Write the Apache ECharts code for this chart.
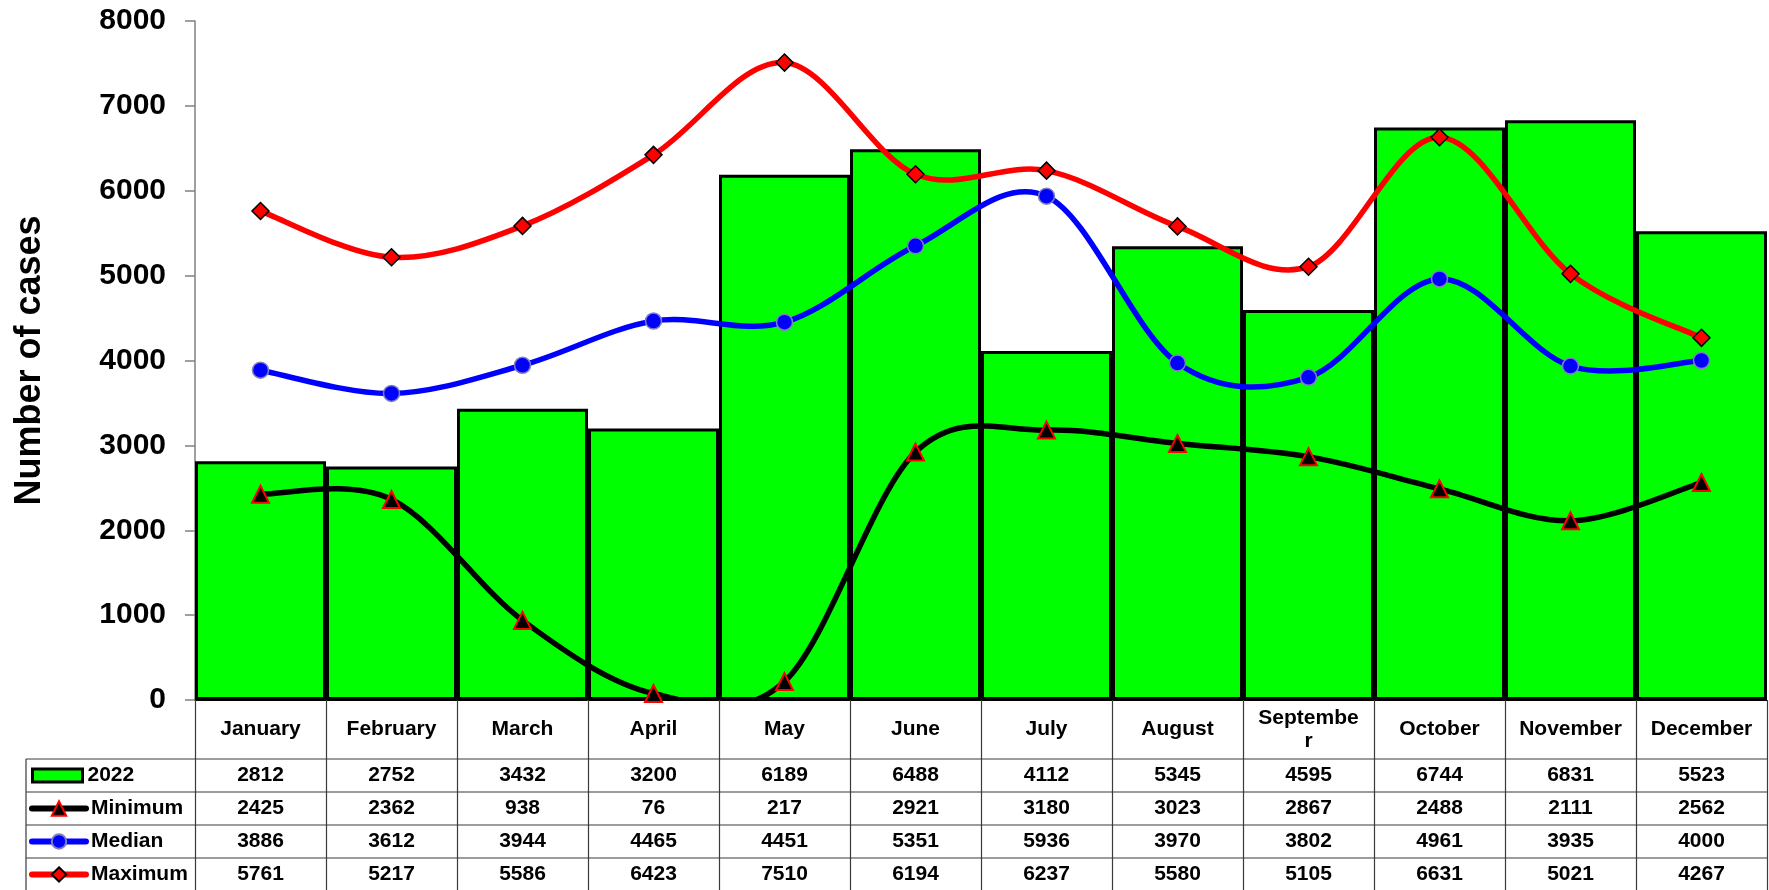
<!DOCTYPE html>
<html>
<head>
<meta charset="utf-8">
<title>Number of cases</title>
<script src="https://cdn.jsdelivr.net/npm/echarts@6.0.0/dist/echarts.min.js"></script>
<style>
  html, body { margin: 0; padding: 0; background: #fff; }
  #main { width: 1769px; height: 890px; }
</style>
</head>
<body>
<div id="main"></div>
<script>
// data
var months = ['January', 'February', 'March', 'April', 'May', 'June', 'July',
  'August', 'September', 'October', 'November', 'December'];
var cases2022 = [2812, 2752, 3432, 3200, 6189, 6488, 4112, 5345, 4595, 6744, 6831, 5523];
var minimum = [2425, 2362, 938, 76, 217, 2921, 3180, 3023, 2867, 2488, 2111, 2562];
var median = [3886, 3612, 3944, 4465, 4451, 5351, 5936, 3970, 3802, 4961, 3935, 4000];
var maximum = [5761, 5217, 5586, 6423, 7510, 6194, 6237, 5580, 5105, 6631, 5021, 4267];
var yTicks = [0, 1000, 2000, 3000, 4000, 5000, 6000, 7000, 8000];

var rowNames = ['2022', 'Minimum', 'Median', 'Maximum'];
var rowValues = [cases2022, minimum, median, maximum];

// layout
var W = 1769, H = 890;
var GRID_LEFT = 195, GRID_RIGHT = 2, GRID_TOP = 21, GRID_BOTTOM = 190;
var HEADER_H = 59, ROW_H = 33, TABLE_LEFT = 26;
var FONT = 'Arial, "Liberation Sans", sans-serif';
var LINE_COLOR = '#3a3a3a';
var CURVE_W = 5.5;

var axisY = H - GRID_BOTTOM;              // 700
var tableRight = W - GRID_RIGHT;

// spreadsheet-style smoothed line: one bezier piece per segment, control points
// from the neighbouring data points (catmull-rom, 1/6), mapped through the axes
function smoothCurve(name, vals, color) {
  return {
    name: name + ' curve',
    type: 'custom',
    clip: true,
    silent: true,
    z: 5,
    data: vals,
    renderItem: function (params, api) {
      var i = params.dataIndex;
      var n = vals.length;
      if (i >= n - 1) return null;
      var p = function (k) {
        k = Math.max(0, Math.min(n - 1, k));
        return api.coord([k, vals[k]]);
      };
      var p0 = p(i - 1), p1 = p(i), p2 = p(i + 1), p3 = p(i + 2);
      return {
        type: 'bezierCurve',
        z2: 10,
        shape: {
          x1: p1[0], y1: p1[1],
          cpx1: p1[0] + (p2[0] - p0[0]) / 6, cpy1: p1[1] + (p2[1] - p0[1]) / 6,
          cpx2: p2[0] - (p3[0] - p1[0]) / 6, cpy2: p2[1] - (p3[1] - p1[1]) / 6,
          x2: p2[0], y2: p2[1]
        },
        style: { fill: null, stroke: color, lineWidth: CURVE_W, lineCap: 'round' }
      };
    }
  };
}

function markerSeries(name, vals, symbol, size, fill, border, borderW) {
  return {
    name: name,
    type: 'line',
    z: 8,
    data: vals,
    symbol: symbol,
    symbolSize: size,
    showAllSymbol: true,
    lineStyle: { width: 0, opacity: 0 },
    itemStyle: { color: fill, borderColor: border, borderWidth: borderW }
  };
}

var xAxes = [{
  type: 'category',
  position: 'bottom',
  data: months,
  boundaryGap: true,
  axisLine: { lineStyle: { color: '#000', width: 1 } },
  axisTick: { show: true, interval: 0, length: GRID_BOTTOM, lineStyle: { color: LINE_COLOR, width: 1.2 } },
  axisLabel: {
    interval: 0, margin: HEADER_H / 2, verticalAlign: 'middle',
    width: 105, overflow: 'breakAll', lineHeight: 23,
    color: '#000', fontFamily: FONT, fontWeight: 'bold', fontSize: 21
  }
}];
rowValues.forEach(function (vals, i) {
  xAxes.push({
    type: 'category',
    position: 'bottom',
    data: vals.map(String),
    axisLine: { show: false },
    axisTick: { show: false },
    axisLabel: {
      interval: 0, margin: HEADER_H + ROW_H * i + ROW_H / 2, verticalAlign: 'middle',
      color: '#000', fontFamily: FONT, fontWeight: 'bold', fontSize: 21
    }
  });
});

var legendLineColors = [null, '#000', '#0000ff', '#ff0000'];
var legends = rowNames.map(function (name, i) {
  var isBar = i === 0;
  var lg = {
    data: [name],
    left: isBar ? 31 : 29,
    top: axisY + HEADER_H + ROW_H * i + ROW_H / 2 - 11,
    padding: 0,
    selectedMode: false,
    itemWidth: isBar ? 50 : 54,
    itemHeight: isBar ? 13 : 18,
    textStyle: { color: '#000', fontFamily: FONT, fontWeight: 'bold', fontSize: 21, lineHeight: 22 }
  };
  if (isBar) {
    lg.icon = 'rect';
    lg.itemStyle = { borderColor: '#000', borderWidth: 3 };
  } else {
    lg.lineStyle = { color: legendLineColors[i], width: 6, opacity: 1, cap: 'round' };
  }
  return lg;
});

var graphics = [];
for (var r = 0; r < rowNames.length; r++) {
  var y = axisY + HEADER_H + ROW_H * r;
  graphics.push({
    type: 'line', silent: true,
    shape: { x1: TABLE_LEFT, y1: y, x2: tableRight, y2: y },
    style: { stroke: LINE_COLOR, lineWidth: 1.2 }
  });
}
graphics.push({
  type: 'line', silent: true,
  shape: { x1: TABLE_LEFT, y1: axisY + HEADER_H, x2: TABLE_LEFT, y2: H },
  style: { stroke: LINE_COLOR, lineWidth: 1.2 }
});

var myChart = echarts.init(document.getElementById('main'), null, { renderer: 'canvas' });
var option = {
  backgroundColor: '#fff',
  animation: false,
  grid: {
    left: GRID_LEFT, right: GRID_RIGHT, top: GRID_TOP, bottom: GRID_BOTTOM,
    containLabel: false, outerBoundsMode: 'none'
  },
  legend: legends,
  xAxis: xAxes,
  yAxis: {
    type: 'value',
    min: yTicks[0],
    max: yTicks[yTicks.length - 1],
    interval: yTicks[1] - yTicks[0],
    name: 'Number of cases',
    nameLocation: 'middle',
    nameRotate: 90,
    nameGap: 147,
    nameTextStyle: { color: '#000', fontFamily: FONT, fontWeight: 'bold', fontSize: 36 },
    axisLine: { show: true, lineStyle: { color: '#808080', width: 1.5 } },
    axisTick: { show: true, length: 10, lineStyle: { color: '#808080', width: 1.5 } },
    splitLine: { show: false },
    axisLabel: {
      margin: 29, color: '#000', fontFamily: FONT, fontWeight: 'bold', fontSize: 30,
      formatter: function (v) { return String(v); }
    }
  },
  graphic: graphics,
  series: [
    {
      name: '2022',
      type: 'bar',
      z: 2,
      data: cases2022,
      barCategoryGap: '0%',
      itemStyle: { color: '#00ff00', borderColor: '#000', borderWidth: 3 }
    },
    smoothCurve('Minimum', minimum, '#000'),
    smoothCurve('Median', median, '#0000ff'),
    smoothCurve('Maximum', maximum, '#ff0000'),
    markerSeries('Minimum', minimum, 'triangle', 17, '#000', '#ff0000', 2),
    markerSeries('Median', median, 'circle', 16, '#0000ff', '#8080c0', 1.5),
    markerSeries('Maximum', maximum, 'diamond', 17, '#ff0000', '#000', 1.5)
  ]
};
myChart.setOption(option);
window.onresize = myChart.resize;
</script>
</body>
</html>
